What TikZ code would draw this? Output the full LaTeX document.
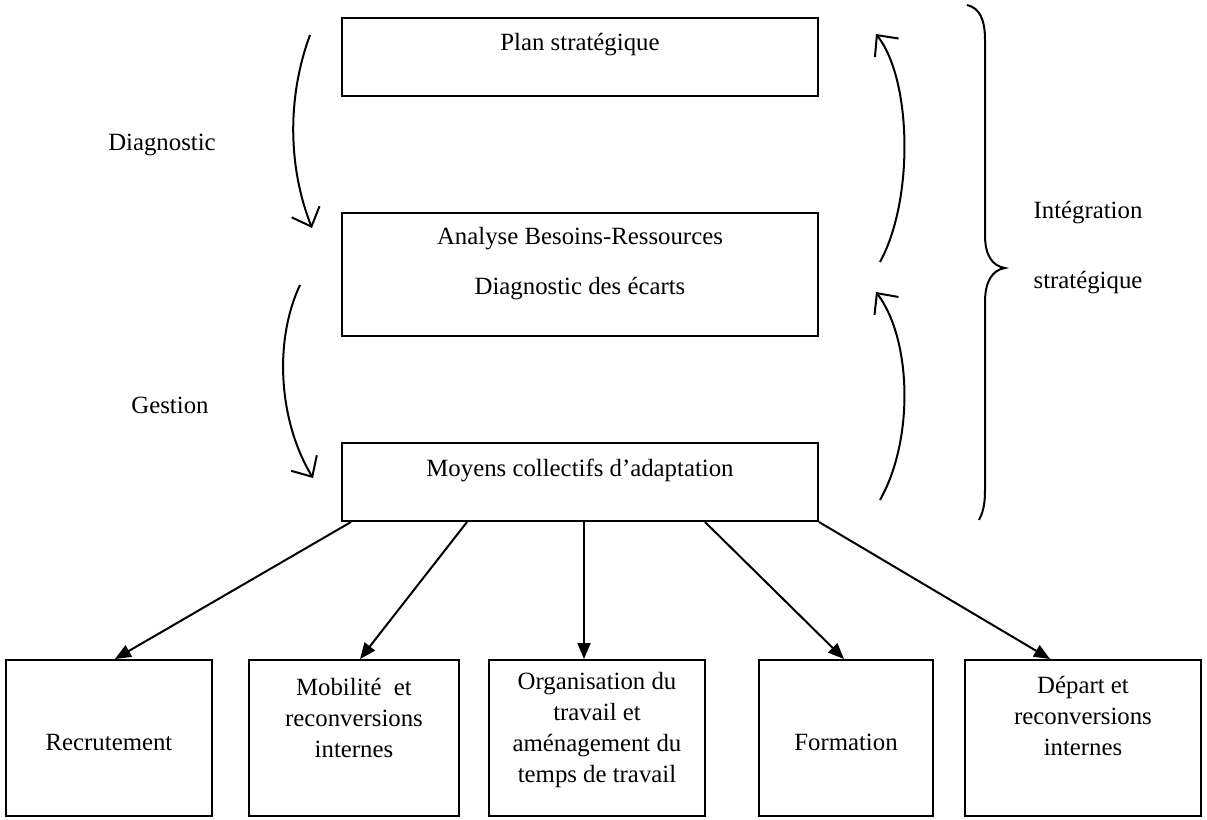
\documentclass[tikz,border=0pt]{standalone}
\usepackage{fontspec}
\setmainfont{Liberation Serif}
\usetikzlibrary{arrows.meta}
\tikzstyle{boite}=[draw, line width=1pt, inner sep=0pt]
\tikzstyle{hbox}=[boite, minimum width=238pt]
\tikzstyle{bbox}=[boite, minimum height=78pt]
\tikzstyle{txt}=[inner sep=0pt, align=center, font=\fontsize{12.4}{15.5}\selectfont]
\tikzstyle{fleche}=[line width=1pt, -{Triangle[length=8pt,width=6.5pt]}]
\tikzstyle{courbe}=[line width=1pt, -{Straight Barb[length=8pt,width=15pt]}]

\begin{document}
\begin{tikzpicture}[x=0.5pt, y=-0.5pt]
        \useasboundingbox (0,0) rectangle (1207,820);
        % cadres du haut
        \node[hbox, minimum height=39pt]   (plan) at (580,57) {};
        \node[hbox, minimum height=61.5pt] (analyse) at (580,274.5) {};
        \node[hbox, minimum height=39pt]   (moyens) at (580,482) {};
        \node[txt] (plantxt) at (580,45) {Plan stratégique};
        \node[txt] (analysetxt) at (580,239) {Analyse Besoins-Ressources};
        \node[txt] (ecartstxt) at (580,289) {Diagnostic des écarts};
        \node[txt] (moyenstxt) at (580,470) {Moyens collectifs d'adaptation};
        % cadres du bas
        \node[bbox, minimum width=103pt] (recru) at (109,738) {};
        \node[bbox, minimum width=105pt] (mobil) at (354,738) {};
        \node[bbox, minimum width=108pt] (orga) at (597,738) {};
        \node[bbox, minimum width=87pt]  (forma) at (846,738) {};
        \node[bbox, minimum width=118pt] (depart) at (1083,738) {};
        \node[txt] (recrutxt) at (109,742) {Recrutement};
        \node[txt] (mobiltxt) at (354,718) {Mobilité\ \ et\\reconversions\\internes};
        \node[txt] (orgatxt) at (597,730) {Organisation du\\travail et\\aménagement du\\temps de travail};
        \node[txt] (formatxt) at (846,742) {Formation};
        \node[txt] (departtxt) at (1083,716) {Départ et\\reconversions\\internes};
        % libelles
        \node[txt] (diag) at (162,145) {Diagnostic};
        \node[txt] (gest) at (170,405) {Gestion};
        \node[txt] (integ) at (1088,213) {Intégration};
        \node[txt] (strat) at (1088,283) {stratégique};
        % fleches vers les moyens
        \draw[fleche] ([xshift=5pt]moyens.south west) -- ([xshift=3pt]recru.north);
        \draw[fleche] ([xshift=63pt]moyens.south west) -- ([xshift=3pt]mobil.north);
        \draw[fleche] ([xshift=121.5pt]moyens.south west) -- ([xshift=-6.5pt]orga.north);
        \draw[fleche] ([xshift=182pt]moyens.south west) -- ([xshift=-1pt]forma.north);
        \draw[fleche] (moyens.south east) -- ([xshift=-16.5pt]depart.north);
        % fleches courbes
        \coordinate (d1) at (310,35);
        \coordinate (d2) at (312,228);
        \coordinate (g1) at (300,285);
        \coordinate (g2) at (313,478);
        \coordinate (i1) at (880,262);
        \coordinate (i2) at (876,34);
        \coordinate (j1) at (880,500);
        \coordinate (j2) at (876,292);
        \draw[courbe] (d1) .. controls (286,100) and (289,170) .. (d2);
        \draw[courbe] (g1) .. controls (274,340) and (278,420) .. (g2);
        \draw[courbe] (i1) .. controls (914,200) and (912,80) .. (i2);
        \draw[courbe] (j1) .. controls (914,440) and (912,340) .. (j2);
        % accolade
        \draw[line width=1pt] (967,5) .. controls (980,8) and (985,20) .. (985,40)
            -- (985,235) .. controls (985,255) and (992,266) .. (1005,268)
            .. controls (992,270) and (985,282) .. (985,302)
            -- (985,490) .. controls (985,505) and (983,512) .. (979,520);
    \end{tikzpicture}
\end{document}
